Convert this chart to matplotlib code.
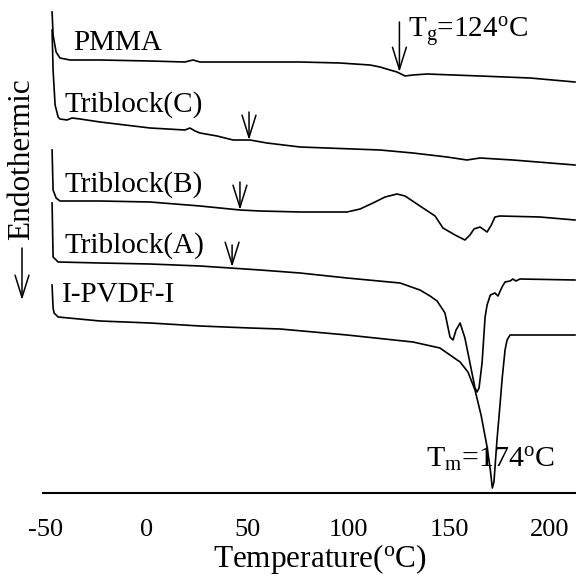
import numpy as np
import matplotlib
matplotlib.use('Agg')
import matplotlib.pyplot as plt

plt.rcParams['font.family'] = 'Liberation Serif'
plt.rcParams['mathtext.fontset'] = 'custom'
plt.rcParams['mathtext.rm'] = 'Liberation Serif'
plt.rcParams['mathtext.it'] = 'Liberation Serif:italic'

# DSC traces: temperature (C) and heat flow (arbitrary, offset)
pmma_T = [-47.0, -46.5, -45.0, -43.1, -38.1, -23.2, 1.6, 18.9, 22.9, 26.4, 51.2, 76.0,
          95.8, 110.7, 115.7, 120.6, 124.1, 128.1, 132.0, 139.0, 165.3, 190.1, 212.4]
pmma_h = [481, 458, 441, 435, 433, 433, 432, 431, 433, 431, 431, 431,
          430, 428, 426, 423, 421, 417, 418, 419, 417, 415, 411]

c_T = [-47.0, -46.5, -45.5, -44.0, -43.1, -39.6, -37.1, -33.1, -23.2, 1.6, 18.9, 21.4, 23.9,
       26.4, 34.8, 42.8, 51.2, 59.6, 76.0, 115.7, 132.0, 148.9, 158.8, 165.3, 181.6, 212.4]
c_h = [463, 423, 388, 376, 374, 373, 375, 374, 371, 365, 363, 365, 362,
       360, 357, 353, 353, 350, 346, 343, 340, 336, 333, 335, 333, 328]

b_T = [-47.0, -46.5, -45.0, -43.1, -23.2, 1.6, 26.4, 46.2, 56.2, 76.0, 99.3, 105.8, 112.2,
       118.2, 124.1, 128.1, 135.5, 143.0, 146.9, 152.9, 157.8, 160.3, 162.3, 165.3, 168.8,
       170.9, 172.7, 175.2, 195.0, 212.4]
b_h = [343, 303, 295, 292, 292, 291, 287, 283, 282, 281, 281, 284, 290,
       296, 299, 297, 287, 277, 265, 258, 253, 258, 264, 266, 261,
       268, 276, 277, 276, 273]

a_T = [-47.0, -46.5, -44.0, -23.2, 1.6, 26.4, 41.3, 56.2, 76.0, 99.3, 125.6, 135.5, 140.5,
       144.0, 147.9, 150.4, 151.9, 153.4, 155.4, 157.8, 161.3, 162.8, 163.8, 164.8, 166.3,
       167.8, 168.8, 170.4, 172.7, 174.2, 176.2, 177.7, 180.2, 181.6, 183.1, 185.1, 212.4]
a_h = [290, 236, 231, 230, 229, 227, 225, 223, 220, 215, 210, 203, 197,
       192, 180, 156, 153, 163, 170, 155, 120, 105, 101, 105, 130,
       176, 188, 198, 200, 197, 206, 211, 212, 214, 212, 214, 213]

pvdf_T = [-47.0, -46.5, -46.0, -44.0, -23.2, 1.6, 26.4, 51.2, 66.1, 99.3, 132.0, 145.4, 155.4,
          159.3, 162.8, 165.8, 168.8, 170.4, 171.4, 172.2, 173.7, 175.2, 176.2, 177.7, 178.7,
          180.2, 212.4]
pvdf_h = [208, 185, 180, 176, 172, 170, 167, 165, 164, 158, 151, 145, 131,
          121, 103, 78, 46, 23, 5, 11, 53, 88, 113, 143, 153,
          158, 158]

curves = [(pmma_T, pmma_h), (c_T, c_h), (b_T, b_h), (a_T, a_h), (pvdf_T, pvdf_h)]
names = ['PMMA', 'Triblock(C)', 'Triblock(B)', 'Triblock(A)', 'I-PVDF-I']
name_T = [-36.6, -40.6, -40.6, -40.6, -42.0]
name_h = [443, 381, 301, 240, 191]

# Tg arrows (C, B, A) and PMMA Tg arrow
tg_T = [50.7, 46.2, 42.3]
tg_top = [381, 311, 248]
tg_tip = [353, 283, 226]

xticks = [-50, 0, 50, 100, 150, 200]

fig = plt.figure(figsize=(5.76, 5.75), dpi=100)
ax = fig.add_axes([43/576, 82/575, 533/576, 493/575])

for (T, h) in curves:
    ax.plot(T, h, color='black', lw=1.2)

for nm, t, h in zip(names, name_T, name_h):
    ax.text(t, h, nm, fontsize=21, ha='left', va='baseline')

arr = dict(arrowstyle='->,head_length=1.6,head_width=0.5', color='black', lw=1.1,
           shrinkA=0, shrinkB=0)
for t, top, tip in zip(tg_T, tg_top, tg_tip):
    ax.annotate('', xy=(t, tip), xytext=(t, top), arrowprops=arr)

ax.annotate('', xy=(125.3, 421), xytext=(125.3, 471), arrowprops=arr)
ax.text(129.6, 455, r'T$_\mathrm{g}$=124$^\mathrm{o}$C', fontsize=21, ha='left', va='baseline')
ax.text(138.5, 25, r'T$_\mathrm{m}$=174$^\mathrm{o}$C', fontsize=21.5, ha='left', va='baseline')

ax.set_xlim(-51.5, 212.9)
ax.set_ylim(0, 493)
ax.set_xticks(xticks)
ax.set_xticklabels([str(v) for v in xticks], fontsize=19)
ax.tick_params(axis='x', length=0, pad=19)
ax.set_yticks([])
for s in ['left', 'right', 'top']:
    ax.spines[s].set_visible(False)
ax.spines['bottom'].set_linewidth(1.5)

fig.text(320/576, 1 - 567/575, r'Temperature($^\mathrm{o}$C)', fontsize=22.5,
         ha='center', va='baseline')
fig.text(22/576, 1 - 159/575, 'Endothermic', fontsize=22.5, rotation=90,
         ha='center', va='center')
ax.annotate('', xy=(22/576, 1 - 300/575), xytext=(22/576, 1 - 248/575),
            xycoords='figure fraction', textcoords='figure fraction', arrowprops=arr)

fig.savefig('out.png', dpi=100)
